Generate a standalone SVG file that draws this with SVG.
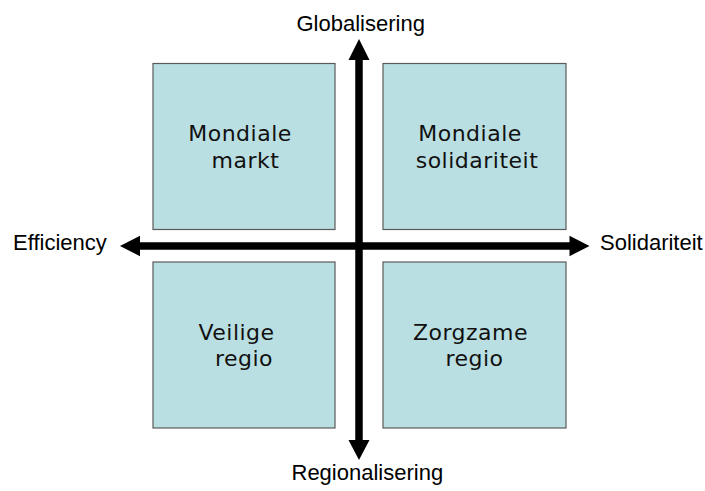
<svg xmlns="http://www.w3.org/2000/svg" width="705" height="491" viewBox="0 0 705 491">
<defs>
<style>
.box{fill:#BADFE2;stroke:#5a5a5a;stroke-width:1.2}
.bt{font-family:"DejaVu Sans",Verdana,sans-serif;font-size:22px;letter-spacing:0.5px;fill:#111;text-anchor:middle}
.ax{font-family:"Liberation Sans",Arial,sans-serif;font-size:22px;fill:#000}
.shaft{stroke:#000;stroke-width:7.5;fill:none}
.head{fill:#000}
</style>
</defs>
<rect width="705" height="491" fill="#fff"/>
<g id="connectors">
<line class="shaft" x1="359" y1="58" x2="359" y2="442"/>
<line class="shaft" x1="138" y1="246" x2="571" y2="246"/>
<polygon class="head" points="359,39 369.5,60 348.5,60"/>
<polygon class="head" points="359,460 369.5,440 348.5,440"/>
<polygon class="head" points="120,246 140,235.8 140,256.2"/>
<polygon class="head" points="589.5,246 569.5,235.8 569.5,256.2"/>
</g>
<g id="node-mondiale-markt">
<rect class="box" x="153" y="63.5" width="182" height="166"/>
<text class="bt" x="240" y="141">Mondiale</text>
<text class="bt" x="245.5" y="167.5">markt</text>
</g>
<g id="node-mondiale-solidariteit">
<rect class="box" x="383" y="63.5" width="183" height="166"/>
<text class="bt" x="470" y="141">Mondiale</text>
<text class="bt" x="477" y="167.5">solidariteit</text>
</g>
<g id="node-veilige-regio">
<rect class="box" x="153" y="262" width="182" height="166"/>
<text class="bt" x="236.5" y="339.5">Veilige</text>
<text class="bt" x="244" y="366">regio</text>
</g>
<g id="node-zorgzame-regio">
<rect class="box" x="383" y="262" width="183" height="166"/>
<text class="bt" x="470.5" y="339.5">Zorgzame</text>
<text class="bt" x="474.5" y="366">regio</text>
</g>
<g id="axis-labels">
<text class="ax" x="296.5" y="31">Globalisering</text>
<text class="ax" x="291.5" y="480">Regionalisering</text>
<text class="ax" x="13" y="249.5">Efficiency</text>
<text class="ax" x="600" y="249.5">Solidariteit</text>
</g>
</svg>
